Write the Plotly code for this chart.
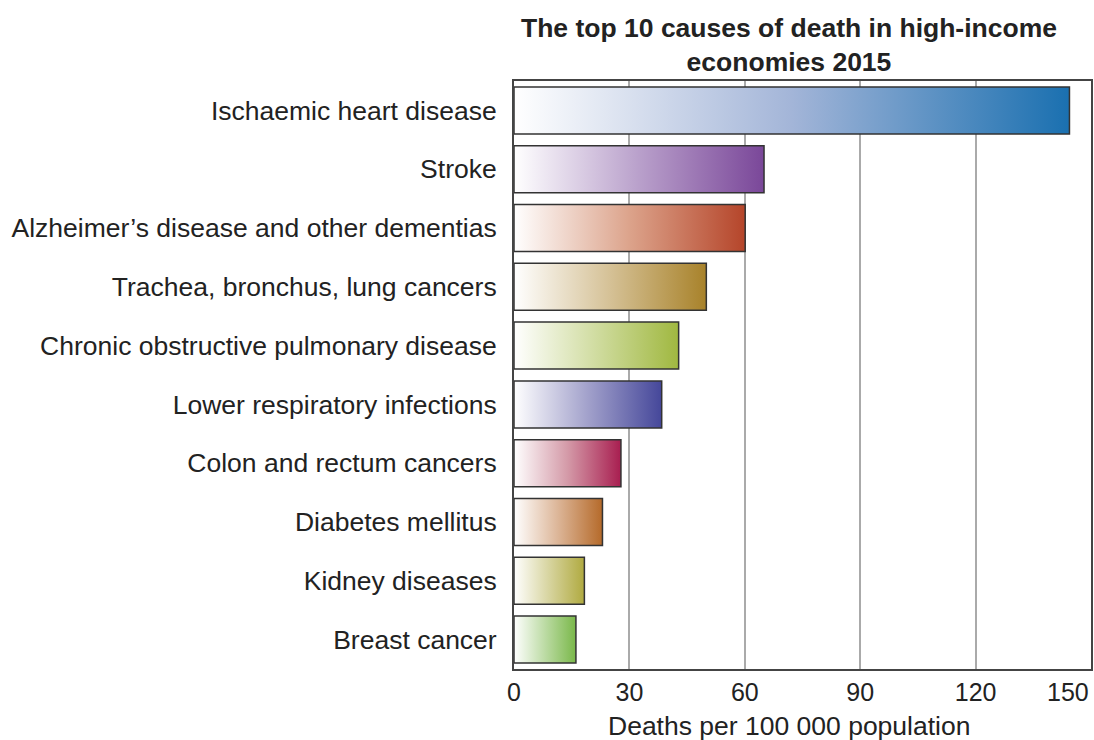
import plotly.graph_objects as go

# Top 10 causes of death, high-income economies, 2015 (deaths per 100 000)
causes = [
    "Ischaemic heart disease",
    "Stroke",
    "Alzheimer\u2019s disease and other dementias",
    "Trachea, bronchus, lung cancers",
    "Chronic obstructive pulmonary disease",
    "Lower respiratory infections",
    "Colon and rectum cancers",
    "Diabetes mellitus",
    "Kidney diseases",
    "Breast cancer",
]
deaths = [144.4, 65.0, 60.1, 50.0, 42.8, 38.4, 27.8, 23.0, 18.3, 16.1]
bar_colors = [
    "#1a70b0", "#7a4799", "#b5452a", "#a8822a", "#a0b840",
    "#45479a", "#a81e50", "#b56a2a", "#b0aa40", "#7ab84a",
]
mid_colors = [
    "#a3b5d8", "#b9a0cb", "#dca38b", "#d5c196", "#d0dca0",
    "#a2a1cb", "#d49aa8", "#dcb597", "#d7d49f", "#bcdba4",
]
x_ticks = [0, 30, 60, 90, 120, 150]

FONT = "Liberation Sans, Arial, Helvetica, sans-serif"
TXT = "#222222"
half = 0.4  # half bar thickness in category units
title_x = (790 - 514) / (1093 - 514)  # shared centre for chart and axis titles

fig = go.Figure()
for i, (name, val, col, mid) in enumerate(zip(causes, deaths, bar_colors, mid_colors)):
    fig.add_trace(go.Scatter(
        x=[0, val, val, 0, 0],
        y=[i - half, i - half, i + half, i + half, i - half],
        mode="lines",
        fill="toself",
        fillgradient=dict(type="horizontal",
                          colorscale=[[0, "#ffffff"], [0.5, mid], [1, col]]),
        line=dict(color="#333333", width=1.5),
        name=name,
        hoveron="fills",
        showlegend=False,
    ))

# last tick label sits flush with the right frame edge
fig.add_annotation(
    x=x_ticks[-1], y=0, xref="x", yref="paper",
    text=str(x_ticks[-1]), showarrow=False,
    xanchor="right", yanchor="top", yshift=-7,
    font=dict(family=FONT, size=25, color=TXT),
)

# chart title
fig.add_annotation(
    x=title_x, y=1, xref="paper", yref="paper",
    text="<b>The top 10 causes of death in high-income<br>economies 2015</b>",
    showarrow=False, xanchor="center", yanchor="bottom", yshift=2,
    font=dict(family=FONT, size=26.5, color=TXT),
)

# x-axis title
fig.add_annotation(
    x=title_x, y=0, xref="paper", yref="paper",
    text="Deaths per 100 000 population",
    showarrow=False, xanchor="center", yanchor="top", yshift=-40,
    font=dict(family=FONT, size=26.5, color=TXT),
)

fig.update_layout(
    width=1094, height=740,
    margin=dict(l=514, r=1, t=81, b=71),
    paper_bgcolor="white", plot_bgcolor="white",
    font=dict(family=FONT, size=26.5, color=TXT),
)
fig.update_xaxes(
    range=[0, 150],
    tickvals=x_ticks[:-1],
    ticktext=[str(t) for t in x_ticks[:-1]],
    showgrid=True, gridcolor="#aaaaaa", gridwidth=1.5,
    showline=True, linecolor="#444444", linewidth=2, mirror=True,
    ticks="", zeroline=False,
    tickfont=dict(family=FONT, size=25, color=TXT),
)
fig.update_yaxes(
    range=[9.5, -0.5],
    tickvals=list(range(len(causes))),
    ticktext=causes,
    showgrid=False, zeroline=False,
    showline=True, linecolor="#444444", linewidth=2, mirror=True,
    ticks="", ticklabelstandoff=10,
    tickfont=dict(family=FONT, size=26.5, color=TXT),
)

fig.write_html("out.html")
